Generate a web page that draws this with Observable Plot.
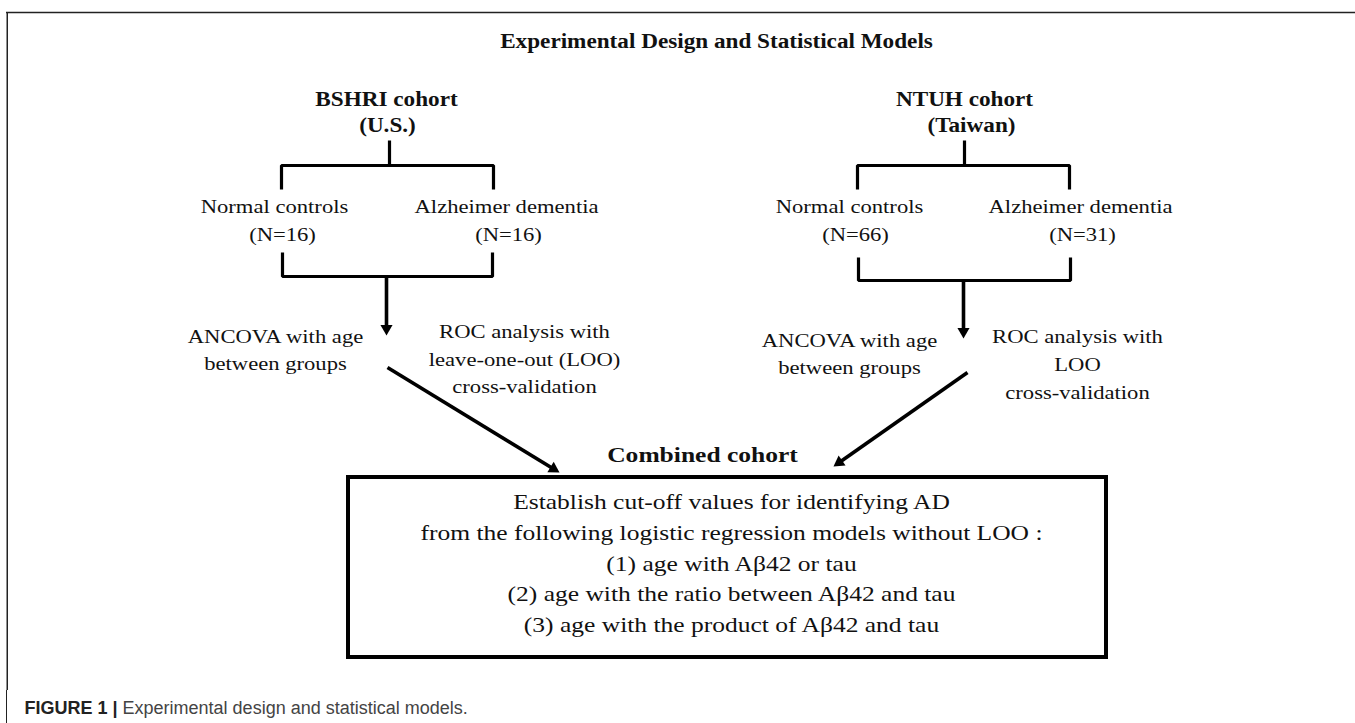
<!DOCTYPE html>
<html>
<head>
<meta charset="utf-8">
<script src="https://cdn.jsdelivr.net/npm/d3@7"></script>
<script src="https://cdn.jsdelivr.net/npm/@observablehq/plot@0.6"></script>
<style>
  html, body { margin: 0; padding: 0; background: #fff; }
  #chart svg { display: block; }
  #caption {
    margin-left: 6px; border-left: 1.5px solid #222; height: 24px;
    padding-left: 17.5px; padding-top: 9px;
    font-family: "Liberation Sans", Arial, sans-serif; font-size: 18px; line-height: 18px; color: #444;
  }
  #caption b { color: #222; }
</style>
</head>
<body>
<div id="chart"></div>
<div id="caption"></div>
<script>
// ---- content ----
const figureTitle = "Experimental Design and Statistical Models";
const cohorts = ["BSHRI cohort", "NTUH cohort"];
const countries = ["(U.S.)", "(Taiwan)"];
const groups = ["Normal controls", "Alzheimer dementia"];
const sampleSizes = [[16, 16], [66, 31]];
const ancovaLines = ["ANCOVA with age", "between groups"];
const rocLines = [
  ["ROC analysis with", "leave-one-out (LOO)", "cross-validation"],
  ["ROC analysis with", "LOO", "cross-validation"]
];
const combinedLabel = "Combined cohort";
const modelLines = [
  "Establish cut-off values for identifying AD",
  "from the following logistic regression models without LOO :",
  "(1) age with A\u03B242 or tau",
  "(2) age with the ratio between A\u03B242 and tau",
  "(3) age with the product of A\u03B242 and tau"
];
const captionLabel = "FIGURE 1 |";
const captionText = "Experimental design and statistical models.";

// ---- layout (diagram coordinates) ----
const W = 1355, H = 690;
const cohortX = [386, 964], countryX = [387, 971];
const cohortY = 105, countryY = 131;
const stemX = [389, 964];
const stemTop = 140, barY = 165, legBottom = 189;
const barX = [[281, 493], [857, 1069]];
const groupX = [[274, 506], [849, 1080]], countX = [[282, 508], [855, 1082]];
const groupY = 212, countY = 240;
const lowBar = [{x: [282, 492], top: 252, y: 276}, {x: [858, 1070], top: 257, y: 280}];
const downArrow = [{x: 386, tip: 335}, {x: 963, tip: 338}];
const ancovaX = [275, 849], ancovaY = [[342, 369], [346, 373]];
const rocX = [524, 1077], rocY = [[337, 365, 392], [342, 370, 398]];
const diag = [{x1: 387, y1: 367, x2: 559, y2: 472}, {x1: 967, y1: 372, x2: 833, y2: 466}];
const combinedPos = {x: 702, y: 461};
const box = {x1: 348, x2: 1106, y1: 477, y2: 657};
const modelX = 731, modelY = [508, 539, 570, 600, 631];
const titlePos = {x: 716, y: 47};

// ---- build mark data ----
const boldText = [{text: figureTitle, x: titlePos.x, y: titlePos.y}];
cohorts.forEach((c, i) => {
  boldText.push({text: c, x: cohortX[i], y: cohortY});
  boldText.push({text: countries[i], x: countryX[i], y: countryY});
});
const regText = [];
sampleSizes.forEach((ns, i) => {
  groups.forEach((g, j) => {
    regText.push({text: g, x: groupX[i][j], y: groupY});
    regText.push({text: `(N=${ns[j]})`, x: countX[i][j], y: countY});
  });
  ancovaLines.forEach((t, k) => regText.push({text: t, x: ancovaX[i], y: ancovaY[i][k]}));
  rocLines[i].forEach((t, k) => regText.push({text: t, x: rocX[i], y: rocY[i][k]}));
});
const boxText = modelLines.map((t, k) => ({text: t, x: modelX, y: modelY[k]}));

const polylines = [];
barX.forEach((bx, i) => {
  polylines.push({id: `s${i}`, x: stemX[i], y: stemTop});
  polylines.push({id: `s${i}`, x: stemX[i], y: barY});
  polylines.push({id: `b${i}`, x: bx[0], y: legBottom});
  polylines.push({id: `b${i}`, x: bx[0], y: barY});
  polylines.push({id: `b${i}`, x: bx[1], y: barY});
  polylines.push({id: `b${i}`, x: bx[1], y: legBottom});
  const lb = lowBar[i];
  polylines.push({id: `l${i}`, x: lb.x[0], y: lb.top});
  polylines.push({id: `l${i}`, x: lb.x[0], y: lb.y});
  polylines.push({id: `l${i}`, x: lb.x[1], y: lb.y});
  polylines.push({id: `l${i}`, x: lb.x[1], y: lb.top});
});

const arrows = [
  ...downArrow.map((a, i) => ({x1: a.x, y1: lowBar[i].y, x2: a.x, y2: a.tip})),
  ...diag
];
const HY = 3.5; // half-size unit of the triangle head
const heads = arrows.map(a => {
  const dx = a.x2 - a.x1, dy = a.y2 - a.y1, len = Math.hypot(dx, dy);
  const ux = dx / len, uy = dy / len;
  return {
    x: a.x2 - ux * 2 * HY, y: a.y2 - uy * 2 * HY,
    angle: Math.atan2(ux, -uy) * 180 / Math.PI,
    sx: a.x2 - ux * 2.5 * HY, sy: a.y2 - uy * 2.5 * HY,
    x1: a.x1, y1: a.y1
  };
});

const serif = "'Liberation Serif', 'Times New Roman', serif";
const svg = Plot.plot({
  width: W, height: H, margin: 0,
  x: {domain: [0, W], range: [0, W], axis: null},
  y: {domain: [0, H], range: [0, H], axis: null},
  style: {background: "#fff", overflow: "visible"},
  marks: [
    // figure frame
    Plot.ruleY([12], {x1: 6, x2: W, stroke: "#222", strokeWidth: 1.5}),
    Plot.ruleX([6.75], {y1: 12, y2: H, stroke: "#222", strokeWidth: 1.5}),
    // brackets
    Plot.line(polylines, {x: "x", y: "y", z: "id", stroke: "#000", strokeWidth: 3.2, strokeLinejoin: "miter", strokeLinecap: "butt", curve: "linear"}),
    // arrow shafts
    Plot.link(heads, {x1: "x1", y1: "y1", x2: "sx", y2: "sy", stroke: "#000", strokeWidth: 3.6}),
    // arrow heads
    Plot.dot(heads, {x: "x", y: "y", rotate: "angle", symbol: "triangle", r: HY / 0.7776, fill: "#000", stroke: "none"}),
    // combined box
    Plot.rect([box], {x1: "x1", x2: "x2", y1: "y1", y2: "y2", fill: "none", stroke: "#000", strokeWidth: 4}),
    // texts
    Plot.text(boldText, {x: "x", y: "y", text: "text", fontFamily: serif, fontWeight: "bold", fontSize: 20, lineAnchor: "bottom", fill: "#111"}),
    Plot.text([combinedPos], {x: "x", y: "y", text: () => combinedLabel, fontFamily: serif, fontWeight: "bold", fontSize: 22, lineAnchor: "bottom", fill: "#111"}),
    Plot.text(regText, {x: "x", y: "y", text: "text", fontFamily: serif, fontSize: 19.5, lineAnchor: "bottom", fill: "#111"}),
    Plot.text(boxText, {x: "x", y: "y", text: "text", fontFamily: serif, fontSize: 22, lineAnchor: "bottom", fill: "#111"})
  ]
});
// the original typesetting is horizontally widened; stretch glyphs around each anchor
svg.querySelectorAll("text").forEach(t => {
  const tr = t.getAttribute("transform");
  if (tr) t.setAttribute("transform", tr + " scale(1.16,1)");
});
document.getElementById("chart").appendChild(svg);
const cap = document.getElementById("caption");
const b = document.createElement("b"); b.textContent = captionLabel;
cap.appendChild(b);
cap.appendChild(document.createTextNode(" " + captionText));
</script>
</body>
</html>
